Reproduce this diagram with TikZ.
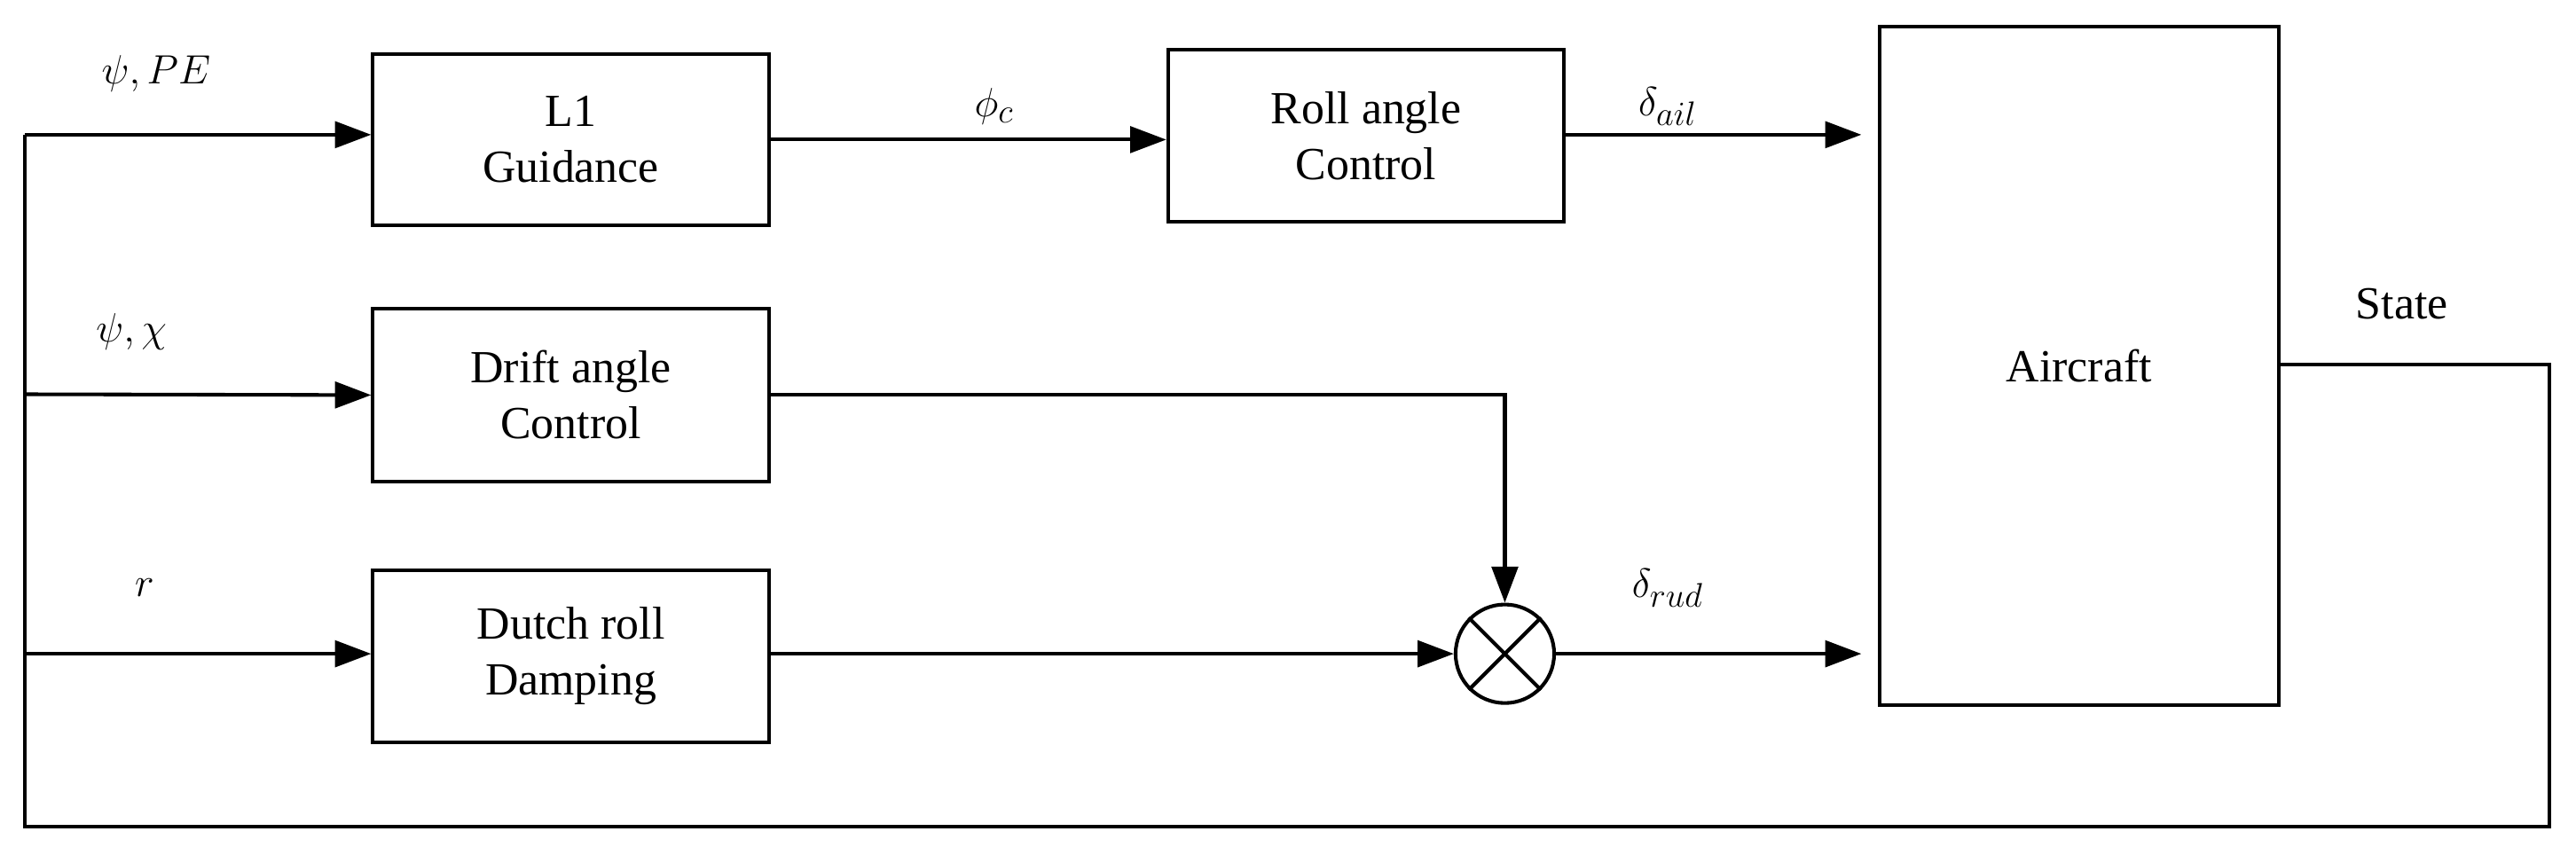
\documentclass[tikz,border=0pt]{standalone}
\usepackage{fontspec}
\setmainfont{Liberation Serif}
\usetikzlibrary{arrows.meta}
\begin{document}
\begin{tikzpicture}[x=1pt,y=-1pt,
  blk/.style={draw,line width=2.2pt,inner sep=0pt,align=center,font=\fontsize{28}{34}\selectfont},
  ln/.style={line width=2.2pt},
  ar/.style={ln,-{Triangle[length=22pt,width=16pt]}},
  lab/.style={font=\fontsize{32}{36}\selectfont}]
\useasboundingbox (0,0) rectangle (1568,520);
\node[blk,minimum width=241pt,minimum height=104pt] (l1) at (347.5,85) {L1\\Guidance};
\node[blk,minimum width=241pt,minimum height=105pt] (roll) at (831.5,82.5) {Roll angle\\Control};
\node[blk,minimum width=243pt,minimum height=413pt] (ac) at (1265.5,222.5) {Aircraft};
\node[blk,minimum width=241pt,minimum height=105pt] (drift) at (347.5,240.5) {Drift angle\\Control};
\node[blk,minimum width=241pt,minimum height=105pt] (dutch) at (347.5,399.5) {Dutch roll\\Damping};
\node[draw,circle,line width=2.2pt,minimum size=60pt,inner sep=0pt] (mul) at (916,398) {};
\draw[ln] (mul.north west) -- (mul.south east) (mul.north east) -- (mul.south west);
\coordinate (tl) at (15,82);
\coordinate (bl) at (15,503);
\coordinate (br) at (1552,503);
\coordinate (sr) at (1552,222);
\coordinate (a1) at (1133,82);
\coordinate (a2) at (1133,398);
\draw[ln] (ac.east |- sr) -- (sr) -- (br) -- (bl) -- (tl);
\draw[ar] (tl) -- (l1.west |- tl);
\draw[ar] (15,240) -- (drift.west);
\draw[ar] (15,398) -- (dutch.west |- 0,398);
\draw[ar] (l1.east |- 0,85) -- (roll.west |- 0,85);
\draw[ar] (roll.east |- a1) -- (a1);
\draw[ar] (drift.east) -| (mul.north);
\draw[ar] (dutch.east |- mul) -- (mul.west);
\draw[ar] (mul.east) -- (a2);
\node[lab] (t1) at (95,45) {$\psi, PE$};
\node[lab] (t2) at (80,202) {$\psi, \chi$};
\node[lab] (t3) at (88,358) {$r$};
\node[lab] (t4) at (605,65) {$\phi_c$};
\node[lab] (t5) at (1015,65) {$\delta_{ail}$};
\node[lab] (t6) at (1015,358) {$\delta_{rud}$};
\node[font=\fontsize{28}{34}\selectfont] (t7) at (1462,185) {State};
\end{tikzpicture}
\end{document}
